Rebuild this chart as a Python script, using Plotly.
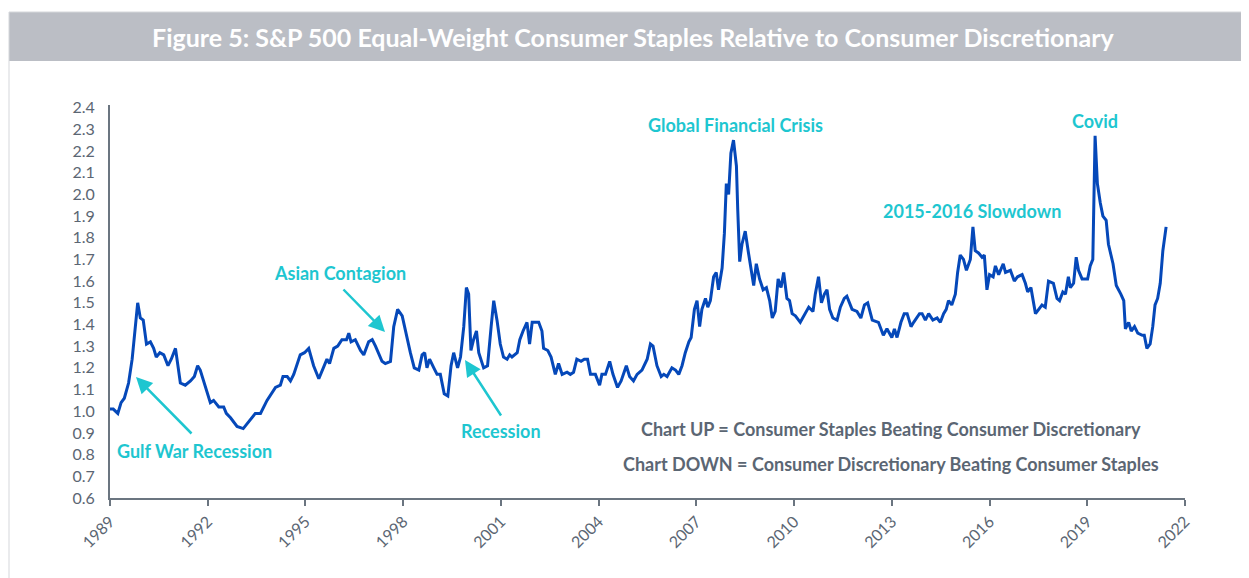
import plotly.graph_objects as go

# ---- data ----
years = [
    1989.00, 1989.10, 1989.24, 1989.34, 1989.44, 1989.57, 1989.68, 1989.85, 1989.93,
    1990.02, 1990.12, 1990.24, 1990.34, 1990.42, 1990.53, 1990.65, 1990.78, 1990.88,
    1991.01, 1991.16, 1991.31, 1991.47, 1991.59, 1991.69, 1991.77, 1991.93,
    1992.08, 1992.18, 1992.34, 1992.49, 1992.57, 1992.70, 1992.90,
    1993.09, 1993.26, 1993.46, 1993.62, 1993.82,
    1994.08, 1994.23, 1994.31, 1994.44, 1994.54, 1994.64, 1994.84, 1994.97,
    1995.10, 1995.25, 1995.41, 1995.51, 1995.66, 1995.74, 1995.87, 1995.99,
    1996.12, 1996.26, 1996.33, 1996.40, 1996.53, 1996.69, 1996.79, 1996.94,
    1997.05, 1997.15, 1997.35, 1997.45, 1997.61, 1997.71, 1997.83, 1997.97,
    1998.07, 1998.22, 1998.34, 1998.48, 1998.58, 1998.66, 1998.73, 1998.81, 1998.94,
    1999.04, 1999.14, 1999.26, 1999.37, 1999.47, 1999.55, 1999.67, 1999.76, 1999.86, 1999.94,
    2000.01, 2000.08, 2000.16, 2000.25, 2000.32, 2000.47, 2000.59, 2000.70, 2000.78, 2000.88, 2000.98,
    2001.08, 2001.19, 2001.27, 2001.34, 2001.50, 2001.58, 2001.68, 2001.80, 2001.88, 2001.96,
    2002.16, 2002.26, 2002.31, 2002.44, 2002.54, 2002.67, 2002.77, 2002.88,
    2003.03, 2003.13, 2003.23, 2003.33, 2003.46, 2003.56, 2003.66, 2003.75, 2003.90,
    2004.03, 2004.10, 2004.21, 2004.34, 2004.44, 2004.58, 2004.69, 2004.85, 2004.95,
    2005.07, 2005.18, 2005.33, 2005.49, 2005.59, 2005.67, 2005.79, 2005.92,
    2006.00, 2006.10, 2006.25, 2006.36, 2006.46, 2006.56, 2006.66, 2006.77, 2006.84, 2006.94,
    2007.02, 2007.10, 2007.17, 2007.28, 2007.35, 2007.43, 2007.53, 2007.61, 2007.68, 2007.79,
    2007.86, 2007.92, 2007.99,
    2008.06, 2008.14, 2008.23, 2008.27, 2008.33, 2008.40, 2008.50, 2008.60, 2008.68, 2008.76,
    2008.84, 2008.94,
    2009.05, 2009.15, 2009.25, 2009.33, 2009.42, 2009.51, 2009.60, 2009.68, 2009.78, 2009.86, 2009.94,
    2010.04, 2010.19, 2010.31, 2010.45, 2010.58, 2010.65, 2010.75, 2010.84, 2010.93,
    2011.01, 2011.09, 2011.19, 2011.32, 2011.42, 2011.54, 2011.62, 2011.78, 2011.93,
    2012.05, 2012.16, 2012.26, 2012.40, 2012.59, 2012.74, 2012.85,
    2013.00, 2013.08, 2013.16, 2013.28, 2013.38, 2013.47, 2013.59, 2013.67, 2013.85, 2013.93,
    2014.03, 2014.13, 2014.26, 2014.39, 2014.49, 2014.59, 2014.67, 2014.74, 2014.84, 2014.95,
    2015.02, 2015.10, 2015.20, 2015.29, 2015.41, 2015.49, 2015.56, 2015.66, 2015.77, 2015.84, 2015.92,
    2016.00, 2016.11, 2016.18, 2016.28, 2016.42, 2016.49, 2016.64, 2016.76, 2016.86,
    2017.00, 2017.10, 2017.17, 2017.27, 2017.41, 2017.51, 2017.61, 2017.71, 2017.81, 2017.96,
    2018.07, 2018.15, 2018.25, 2018.33, 2018.42, 2018.48, 2018.58, 2018.66, 2018.73, 2018.84,
    2019.01, 2019.09, 2019.17, 2019.24, 2019.31, 2019.40, 2019.48, 2019.58, 2019.65, 2019.79, 2019.89,
    2020.03, 2020.12, 2020.17, 2020.27, 2020.35, 2020.45, 2020.55, 2020.69, 2020.75, 2020.83, 2020.93,
    2021.01, 2021.08, 2021.16, 2021.24, 2021.32, 2021.42,
]

ratio = [
    1.01, 1.01, 0.99, 1.04, 1.06, 1.13, 1.24, 1.50, 1.43,
    1.42, 1.31, 1.32, 1.29, 1.25, 1.27, 1.26, 1.21, 1.24,
    1.29, 1.13, 1.12, 1.14, 1.16, 1.21, 1.19, 1.11,
    1.04, 1.05, 1.02, 1.02, 0.99, 0.97, 0.93,
    0.92, 0.95, 0.99, 0.99, 1.05,
    1.11, 1.12, 1.16, 1.16, 1.14, 1.17, 1.26, 1.27,
    1.29, 1.21, 1.15, 1.19, 1.24, 1.22, 1.29, 1.30,
    1.33, 1.33, 1.36, 1.32, 1.33, 1.28, 1.26, 1.32,
    1.33, 1.30, 1.23, 1.22, 1.23, 1.39, 1.47, 1.44,
    1.37, 1.27, 1.20, 1.19, 1.26, 1.27, 1.20, 1.24, 1.20,
    1.17, 1.17, 1.08, 1.07, 1.21, 1.27, 1.20, 1.25, 1.39, 1.57,
    1.54, 1.28, 1.33, 1.37, 1.27, 1.20, 1.21, 1.39, 1.51, 1.42, 1.31,
    1.25, 1.24, 1.26, 1.25, 1.27, 1.33, 1.37, 1.41, 1.31, 1.41,
    1.41, 1.37, 1.29, 1.28, 1.25, 1.17, 1.22, 1.17,
    1.18, 1.17, 1.18, 1.24, 1.23, 1.24, 1.24, 1.17, 1.17,
    1.12, 1.17, 1.17, 1.23, 1.17, 1.11, 1.14, 1.21, 1.16,
    1.14, 1.17, 1.19, 1.24, 1.31, 1.30, 1.21, 1.16,
    1.17, 1.16, 1.20, 1.19, 1.17, 1.21, 1.27, 1.32, 1.34, 1.47,
    1.51, 1.39, 1.47, 1.52, 1.48, 1.51, 1.62, 1.64, 1.56, 1.66,
    1.82, 2.05, 2.00,
    2.19, 2.25, 2.13, 1.93, 1.69, 1.77, 1.83, 1.73, 1.65, 1.58,
    1.68, 1.61,
    1.56, 1.57, 1.51, 1.43, 1.46, 1.61, 1.57, 1.64, 1.52, 1.51, 1.45,
    1.44, 1.41, 1.44, 1.48, 1.46, 1.54, 1.62, 1.50, 1.54,
    1.56, 1.47, 1.43, 1.42, 1.48, 1.52, 1.53, 1.47, 1.46,
    1.43, 1.49, 1.50, 1.42, 1.41, 1.35, 1.38,
    1.34, 1.38, 1.34, 1.41, 1.45, 1.45, 1.39, 1.41, 1.45, 1.45,
    1.42, 1.45, 1.42, 1.43, 1.41, 1.45, 1.47, 1.51, 1.49, 1.54,
    1.64, 1.72, 1.70, 1.65, 1.70, 1.85, 1.74, 1.73, 1.71, 1.72, 1.56,
    1.63, 1.62, 1.67, 1.63, 1.68, 1.64, 1.65, 1.60, 1.62,
    1.63, 1.59, 1.55, 1.57, 1.45, 1.47, 1.49, 1.48, 1.60, 1.59,
    1.52, 1.51, 1.55, 1.54, 1.62, 1.57, 1.59, 1.71, 1.65, 1.61,
    1.61, 1.67, 1.70, 2.27, 2.05, 1.96, 1.90, 1.88, 1.77, 1.68, 1.58,
    1.54, 1.51, 1.38, 1.41, 1.37, 1.39, 1.36, 1.35, 1.35, 1.29, 1.31,
    1.39, 1.49, 1.52, 1.59, 1.74, 1.85,
]

x_ticks = [1989, 1992, 1995, 1998, 2001, 2004, 2007, 2010, 2013, 2016, 2019, 2022]
y_ticks = [0.6, 0.7, 0.8, 0.9, 1.0, 1.1, 1.2, 1.3, 1.4, 1.5, 1.6, 1.7,
           1.8, 1.9, 2.0, 2.1, 2.2, 2.3, 2.4]

title_text = "Figure 5: S&P 500 Equal-Weight Consumer Staples Relative to Consumer Discretionary"
event_labels = ["Gulf War Recession", "Asian Contagion", "Recession",
                "Global Financial Crisis", "2015-2016 Slowdown", "Covid"]
note_up = "Chart UP = Consumer Staples Beating Consumer Discretionary"
note_down = "Chart DOWN = Consumer Discretionary Beating Consumer Staples"

# ---- layout geometry (page has an 8px body margin, so the figure is 8px smaller) ----
OFF = 8
W, H = 1249 - OFF, 578 - OFF
PLOT_L, PLOT_R, PLOT_T, PLOT_B = 110, 1185, 105, 498   # in page pixels
ML = PLOT_L - OFF
MT = PLOT_T - OFF
PW = PLOT_R - PLOT_L
PH = PLOT_B - PLOT_T
MR = W - ML - PW
MB = H - MT - PH


def px(x):
    return (x - PLOT_L) / PW


def py(y):
    return (PLOT_B - y) / PH


CYAN = "#1EC6D0"
GRAY = "#5B6673"
BLUE = "#0548B9"
FONT = "Lato"

fig = go.Figure()
fig.add_trace(go.Scatter(
    x=years, y=ratio, mode="lines",
    line=dict(color=BLUE, width=3), hoverinfo="skip", showlegend=False,
))

shapes = [
    dict(type="rect", xref="paper", yref="paper", x0=px(9), x1=px(1260), y0=py(61), y1=py(12),
         fillcolor="#BBBEC5", line=dict(width=0), layer="below"),
    dict(type="line", xref="paper", yref="paper", x0=px(9), x1=px(1260), y0=py(12), y1=py(12),
         line=dict(color="#D5D7DB", width=1)),
    dict(type="line", xref="paper", yref="paper", x0=px(9), x1=px(9), y0=py(12), y1=py(590),
         line=dict(color="#D5D7DB", width=1)),
]

annotations = [
    dict(text=f"<b>{title_text}</b>", xref="paper", yref="paper", x=px(633), y=py(37),
         showarrow=False, font=dict(family=FONT, size=25, color="white"),
         xanchor="center", yanchor="middle"),
    # event labels
    dict(text=event_labels[0], xref="paper", yref="paper", x=px(194), y=py(451)),
    dict(text=event_labels[1], xref="paper", yref="paper", x=px(340), y=py(273)),
    dict(text=event_labels[2], xref="paper", yref="paper", x=px(501), y=py(431)),
    dict(text=event_labels[3], xref="paper", yref="paper", x=px(735), y=py(125)),
    dict(text=event_labels[4], xref="paper", yref="paper", x=px(972), y=py(211)),
    dict(text=event_labels[5], xref="paper", yref="paper", x=px(1095), y=py(121)),
]
for a in annotations[1:]:
    a["text"] = f"<b>{a['text']}</b>"
    a.update(showarrow=False, font=dict(family=FONT, size=18, color=CYAN),
             xanchor="center", yanchor="middle")

# arrows (head at point, tail offset in pixels)
arrows = [
    dict(x=px(136), y=py(377), ax=57, ay=58),
    dict(x=px(385), y=py(332), ax=-43, ay=-44),
    dict(x=px(465), y=py(360), ax=37, ay=57),
]
for a in arrows:
    a.update(xref="paper", yref="paper", text="", showarrow=True, arrowhead=2,
             arrowsize=1.3, arrowwidth=2.5, arrowcolor=CYAN)
    annotations.append(a)

annotations += [
    dict(text=f"<b>{note_up}</b>", xref="paper", yref="paper", x=px(891), y=py(429),
         showarrow=False, font=dict(family=FONT, size=18, color=GRAY), xanchor="center",
         yanchor="middle"),
    dict(text=f"<b>{note_down}</b>", xref="paper", yref="paper", x=px(891), y=py(464),
         showarrow=False, font=dict(family=FONT, size=18, color=GRAY), xanchor="center",
         yanchor="middle"),
]

fig.update_layout(
    width=W, height=H,
    margin=dict(l=ML, r=MR, t=MT, b=MB, pad=0),
    paper_bgcolor="white", plot_bgcolor="white",
    shapes=shapes, annotations=annotations,
    font=dict(family=FONT, color=GRAY, size=16),
    xaxis=dict(
        range=[1989, 2022], tickvals=x_ticks, ticktext=[str(t) for t in x_ticks],
        tickangle=-45, showgrid=False, zeroline=False, showline=True,
        linecolor="#6B7580", linewidth=2, ticks="outside", ticklen=6, tickwidth=2,
        tickcolor="#6B7580", tickfont=dict(family=FONT, size=16, color=GRAY),
    ),
    yaxis=dict(
        range=[0.6, 2.412], tickvals=y_ticks, ticktext=[f"{v:.1f}" for v in y_ticks],
        showgrid=False, zeroline=False, showline=True, linecolor="#6B7580", linewidth=2,
        ticks="outside", ticklen=10, tickcolor="rgba(0,0,0,0)",
        tickfont=dict(family=FONT, size=16, color=GRAY),
    ),
)

fig.write_html("out.html")
